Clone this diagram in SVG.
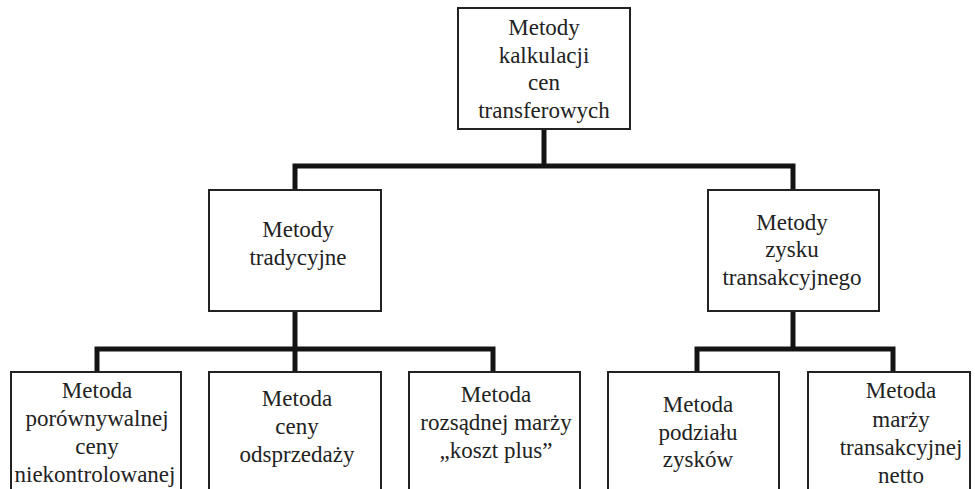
<svg xmlns="http://www.w3.org/2000/svg" width="975" height="489" viewBox="0 0 975 489">
<style>
.box{fill:#fff;stroke:#222;stroke-width:2}
.c{fill:none;stroke:#141414;stroke-width:5;stroke-linecap:square}
</style>
<rect width="975" height="489" fill="#fff"/>
<g id="connectors">
<path class="c" d="M544 130V166M295 166H793M295 166V189M793 166V189"/>
<path class="c" d="M295 312V349M97 349H493M97 349V371M295 349V371M493 349V371"/>
<path class="c" d="M793 312V349M697 349H893M697 349V371M893 349V371"/>
</g>
<g font-family="'Liberation Serif', 'Times New Roman', serif" font-size="23" fill="#222" text-anchor="middle">
<g id="root">
<rect class="box" x="458" y="8" width="172" height="121"/>
<text x="544" y="35">Metody</text>
<text x="544" y="63">kalkulacji</text>
<text x="544" y="90">cen</text>
<text x="544" y="118">transferowych</text>
</g>
<g id="tradycyjne">
<rect class="box" x="209" y="190" width="172" height="121"/>
<text x="298" y="237">Metody</text>
<text x="298" y="265">tradycyjne</text>
</g>
<g id="zysku">
<rect class="box" x="708" y="190" width="171" height="121"/>
<text x="792" y="230">Metody</text>
<text x="792" y="257">zysku</text>
<text x="792" y="285">transakcyjnego</text>
</g>
<g id="porownywalnej">
<rect class="box" x="11" y="372" width="170" height="130"/>
<text x="97" y="398">Metoda</text>
<text x="97" y="426">porównywalnej</text>
<text x="97" y="454">ceny</text>
<text x="95" y="482">niekontrolowanej</text>
</g>
<g id="odsprzedazy">
<rect class="box" x="209" y="372" width="172" height="130"/>
<text x="297" y="406">Metoda</text>
<text x="297" y="434">ceny</text>
<text x="297" y="462">odsprzedaży</text>
</g>
<g id="kosztplus">
<rect class="box" x="409" y="372" width="171" height="130"/>
<text x="496" y="402">Metoda</text>
<text x="496" y="430">rozsądnej marży</text>
<text x="496" y="458">„koszt plus”</text>
</g>
<g id="podzialu">
<rect class="box" x="608" y="372" width="171" height="130"/>
<text x="698" y="412">Metoda</text>
<text x="698" y="440">podziału</text>
<text x="698" y="467">zysków</text>
</g>
<g id="netto">
<rect class="box" x="808" y="372" width="162" height="130"/>
<text x="901" y="398">Metoda</text>
<text x="901" y="427">marży</text>
<text x="901" y="455">transakcyjnej</text>
<text x="901" y="483">netto</text>
</g>
</g>
</svg>
